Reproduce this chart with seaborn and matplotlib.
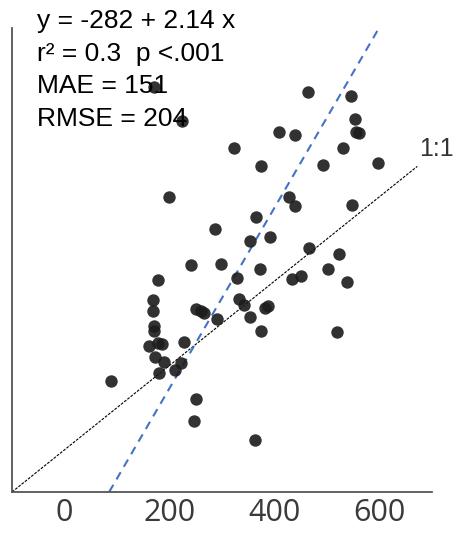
import numpy as np
import matplotlib.pyplot as plt
import pandas as pd
import seaborn as sns

obs = [171, 223, 408, 322, 375, 199, 365, 286, 391, 354,
       463, 545, 554, 556, 560, 439, 531, 493, 597, 427,
       439, 548, 465, 523, 240, 299, 373, 328, 178, 168,
       332, 342, 381, 387, 251, 260, 266, 169, 353, 291,
       171, 171, 375, 228, 161, 178, 186, 173, 189, 221,
       210, 180, 88, 251, 247, 362, 501, 434, 451, 539,
       519]
pred = [860, 780, 754, 715, 674, 599, 551, 524, 504, 496,
        849, 839, 785, 754, 750, 746, 715, 675, 679, 600,
        578, 581, 478, 465, 437, 441, 428, 408, 402, 356,
        358, 343, 337, 342, 335, 328, 325, 328, 316, 309,
        294, 282, 281, 255, 245, 253, 251, 219, 208, 206,
        190, 183, 162, 120, 69, 24, 429, 405, 411, 397,
        279]

intercept = -282
slope = 2.14
stats_lines = ['y = -282 + 2.14 x', 'r\u00b2 = 0.3  p <.001', 'MAE = 151', 'RMSE = 204']
xticks = [0, 200, 400, 600]

df = pd.DataFrame({'obs': obs, 'pred': pred})

sns.set_theme(style='white')
plt.rcParams['font.family'] = ['Liberation Sans', 'DejaVu Sans']

fig = plt.figure(figsize=(4.55, 5.33), dpi=100)
ax = fig.add_axes([12 / 455, 41 / 533, 420 / 455, 464 / 533])

sns.scatterplot(data=df, x='obs', y='pred', ax=ax, color='#1c1c1c', alpha=0.9,
                s=80, linewidth=0, zorder=3)

# 1:1 line
ax.plot([-100, 672], [-100, 672], color='black', linestyle=(0, (2.5, 1.2)), linewidth=0.8, zorder=2)
ax.text(676, 684, '1:1', fontsize=18, color='#333333', ha='left', va='bottom')

# fitted line
ax.axline((0, intercept), slope=slope, color='#4472c4', linestyle=(0, (4, 3)), linewidth=1.5, zorder=2)

ax.set_xlim(-100, 700)
ax.set_ylim(-100, 1000)
ax.set_xticks(xticks)
ax.set_xticklabels([str(t) for t in xticks], fontsize=22, color='#3a3a3a', family=['Open Sans', 'DejaVu Sans'])
ax.set_yticks([])
ax.tick_params(axis='x', length=0, pad=4)
ax.set_xlabel('')
ax.set_ylabel('')
for side in ['top', 'right']:
    ax.spines[side].set_visible(False)
for side in ['left', 'bottom']:
    ax.spines[side].set_color('#555555')
    ax.spines[side].set_linewidth(1.3)

baselines = [28, 61, 93, 126]
for txt, by in zip(stats_lines, baselines):
    fig.text(37 / 455, 1 - by / 533, txt, fontsize=19, color='black', ha='left', va='baseline')

plt.savefig('out.png', dpi=100)
